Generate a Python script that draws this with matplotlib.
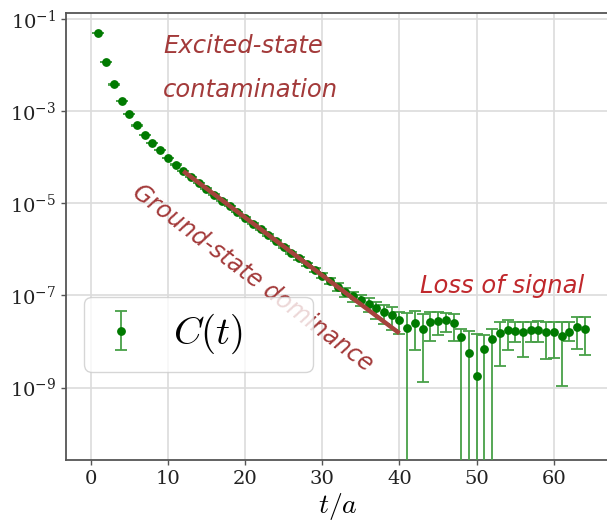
"""Euclidean correlator C(t) on a log scale, with the three regimes annotated."""
import matplotlib
matplotlib.use("Agg")
import matplotlib.pyplot as plt
import numpy as np

# --- data ---
t = list(range(1, 65))
corr = [
    4.9e-2, 1.16e-2, 3.80e-3, 1.66e-3, 8.51e-4, 4.90e-4, 3.09e-4, 2.04e-4,
    1.41e-4, 9.77e-5, 6.92e-5, 5.01e-5, 3.72e-5, 2.75e-5, 2.09e-5, 1.55e-5,
    1.15e-5, 8.71e-6, 6.46e-6, 4.90e-6, 3.63e-6, 2.75e-6, 2.04e-6, 1.55e-6,
    1.15e-6, 8.51e-7, 6.46e-7, 4.79e-7, 3.63e-7, 2.69e-7, 2.04e-7, 1.55e-7,
    1.20e-7, 9.77e-8, 8.13e-8, 6.61e-8, 5.25e-8, 4.37e-8, 3.72e-8, 2.95e-8,
    2.00e-8, 2.57e-8, 1.91e-8, 2.63e-8, 2.82e-8, 2.88e-8, 2.51e-8, 1.23e-8,
    5.75e-9, 1.78e-9, 6.92e-9, 1.15e-8, 1.51e-8, 1.82e-8, 1.66e-8, 1.58e-8,
    1.78e-8, 1.82e-8, 1.58e-8, 1.58e-8, 1.32e-8, 1.58e-8, 2.04e-8, 1.91e-8,
]
# upper error
err_hi = [
    2.0e-4, 5.0e-5, 2.0e-5, 8.0e-6, 4.0e-6, 2.5e-6, 1.6e-6, 1.1e-6,
    8.0e-7, 6.0e-7, 4.5e-7, 3.5e-7, 3.0e-7, 2.5e-7, 2.0e-7, 1.7e-7,
    1.5e-7, 1.3e-7, 1.1e-7, 1.0e-7, 9.0e-8, 8.0e-8, 7.0e-8, 6.0e-8,
    5.5e-8, 5.0e-8, 4.5e-8, 4.0e-8, 3.5e-8, 3.2e-8, 3.0e-8, 2.8e-8,
    2.6e-8, 2.4e-8, 2.3e-8, 2.2e-8, 2.1e-8, 2.0e-8, 1.9e-8, 1.5e-8,
    2.12e-8, 1.99e-8, 2.09e-8, 1.71e-8, 1.52e-8, 1.24e-8, 1.49e-8, 0.66e-8,
    1.16e-8, 1.29e-8, 0.71e-8, 0.74e-8, 1.21e-8, 1.14e-8, 1.06e-8, 1.05e-8,
    0.94e-8, 1.00e-8, 1.14e-8, 1.14e-8, 1.31e-8, 1.14e-8, 1.33e-8, 1.46e-8,
]
# lower error (bars reaching zero fall off the bottom of the log axis)
err_lo = [
    2.0e-4, 5.0e-5, 2.0e-5, 8.0e-6, 4.0e-6, 2.5e-6, 1.6e-6, 1.1e-6,
    8.0e-7, 6.0e-7, 4.5e-7, 3.5e-7, 3.0e-7, 2.5e-7, 2.0e-7, 1.7e-7,
    1.5e-7, 1.3e-7, 1.1e-7, 1.0e-7, 9.0e-8, 8.0e-8, 7.0e-8, 6.0e-8,
    5.5e-8, 5.0e-8, 4.5e-8, 4.0e-8, 3.5e-8, 3.2e-8, 3.0e-8, 2.8e-8,
    2.6e-8, 2.4e-8, 2.3e-8, 2.2e-8, 2.1e-8, 2.0e-8, 1.9e-8, 1.5e-8,
    2.00e-8, 1.91e-8, 1.78e-8, 1.61e-8, 1.42e-8, 1.29e-8, 1.49e-8, 1.23e-8,
    5.75e-9, 1.78e-9, 6.92e-9, 1.15e-8, 1.22e-8, 1.16e-8, 0.66e-8, 1.12e-8,
    0.81e-8, 0.82e-8, 1.16e-8, 1.15e-8, 1.21e-8, 0.56e-8, 1.35e-8, 1.40e-8,
]

# single-exponential ground-state fit
fit_amp, fit_mass = 1.61e-3, 0.2894
fit_t0, fit_t1 = 12, 40

C_PTS = "#007a00"
C_ERR = "#48a048"
C_FIT = "#a5433d"
C_TXT = "#a33a3a"
C_LOSS = "#c0282c"
HAND = dict(family="DejaVu Sans", style="italic")

plt.rcParams.update({
    "font.family": "DejaVu Serif",
    "mathtext.fontset": "dejavuserif",
})

fig = plt.figure(figsize=(6.07, 5.25), dpi=100)
ax = fig.add_axes([0.1087, 0.1238, 0.8954, 0.8514])

ax.errorbar(t, corr, yerr=[err_lo, err_hi], fmt="o", color=C_PTS, ms=5.3,
            ecolor=C_ERR, elinewidth=1.3, capsize=4, capthick=1.3,
            label="$C(t)$", zorder=3)

tf = np.linspace(fit_t0, fit_t1, 50)
ax.plot(tf, fit_amp * np.exp(-fit_mass * tf), color=C_FIT, lw=3.2,
        solid_capstyle="butt", zorder=4)

ax.set_yscale("log")
ax.set_xlim(-3.2, 67.2)
ax.set_ylim(10 ** -10.57, 10 ** -0.87)
ax.set_xticks([0, 10, 20, 30, 40, 50, 60])
ax.set_yticks([1e-1, 1e-3, 1e-5, 1e-7, 1e-9])
ax.yaxis.set_minor_locator(matplotlib.ticker.NullLocator())

ax.grid(True, color="#dcdcdc", lw=1.2)
ax.set_axisbelow(True)
for s in ax.spines.values():
    s.set_color("#555555")
    s.set_linewidth(1.3)
ax.spines["right"].set_visible(False)  # falls just outside the crop
ax.tick_params(length=3.5, width=1, color="#555555", labelsize=14,
               labelcolor="#222222")

ax.set_xlabel("$t/a$", fontsize=20, math_fontfamily="cm", labelpad=2)

ax.text(9.4, 10 ** -1.33, "Excited-state\ncontamination", color=C_TXT,
        fontsize=17.5, ha="left", va="top", linespacing=2.05, **HAND)
ax.text(21.0, 10 ** -6.62, "Ground-state dominance", color=C_TXT,
        fontsize=17, ha="center", va="center", rotation=-37,
        rotation_mode="anchor", **HAND)
ax.text(42.7, 10 ** -6.935, "Loss of signal", color=C_LOSS, fontsize=17.5,
        ha="left", va="baseline", **HAND)

ax.legend(loc="lower left", bbox_to_anchor=(0.033, 0.197, 0.4215, 0.154),
          mode="expand", borderaxespad=0, handlelength=1.1,
          prop=dict(size=28, math_fontfamily="cm"))

fig.savefig("out.png", dpi=100)
